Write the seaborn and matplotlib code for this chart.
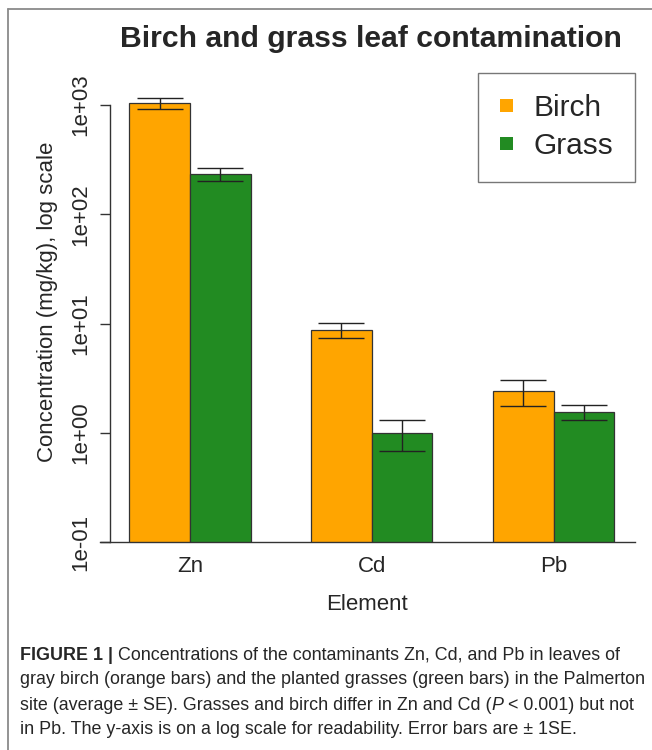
import matplotlib
matplotlib.use("Agg")
import matplotlib.pyplot as plt
import seaborn as sns
import pandas as pd
import numpy as np
from matplotlib.lines import Line2D

# ---- data ----
elements = ["Zn", "Cd", "Pb"]
plants = ["Birch", "Grass"]
birch_mean = [1036, 8.7, 2.39]
grass_mean = [233, 0.99, 1.55]
birch_se = [116, 1.35, 0.65]
grass_se = [30, 0.31, 0.245]
ytick_vals = [0.1, 1, 10, 100, 1000]
ytick_labels = ["1e-01", "1e+00", "1e+01", "1e+02", "1e+03"]

df = pd.DataFrame({
    "Element": elements * 2,
    "Plant": ["Birch"] * 3 + ["Grass"] * 3,
    "Concentration": birch_mean + grass_mean,
})
se_map = {"Birch": birch_se, "Grass": grass_se}
mean_map = {"Birch": birch_mean, "Grass": grass_mean}

sns.set_style("white")
plt.rcParams["font.family"] = ["Liberation Sans", "DejaVu Sans"]

W, H = 652, 750
fig = plt.figure(figsize=(W / 100, H / 100), dpi=100)

ax_left, ax_right = 100, 635
ax_bottom_px, ax_top_px = 542, 61.4
ax = fig.add_axes([ax_left / W, 1 - ax_bottom_px / H,
                   (ax_right - ax_left) / W, (ax_bottom_px - ax_top_px) / H])

orange = "#FFA500"
green = "#228B22"
sns.barplot(data=df, x="Element", y="Concentration", hue="Plant",
            order=elements, hue_order=plants, palette=[orange, green],
            saturation=1, width=2 / 3, edgecolor="#333333", linewidth=0.9,
            ax=ax, errorbar=None, legend=True)
ax.set_yscale("log")
ax.set_ylim(0.1, 10 ** 3.4)
ax.set_xlim(-0.495, 2.448)

# error bars
for plant, cont in zip(plants, ax.containers):
    xs = [b.get_x() + b.get_width() / 2 for b in cont]
    ax.errorbar(xs, mean_map[plant], yerr=se_map[plant], fmt="none",
                ecolor="#222222", elinewidth=1.0, capsize=16.5, capthick=1.0,
                zorder=5)

# axes styling (R-like)
for s in ["top", "right"]:
    ax.spines[s].set_visible(False)
ax.spines["left"].set_position(("data", -0.44))
ax.spines["left"].set_bounds(0.1, 1000)
ax.spines["left"].set_color("#333333")
ax.spines["bottom"].set_color("#333333")
ax.spines["left"].set_linewidth(1.0)
ax.spines["bottom"].set_linewidth(1.0)

ax.set_yticks(ytick_vals)
ax.set_yticklabels(ytick_labels)
ax.yaxis.set_minor_locator(matplotlib.ticker.NullLocator())
ax.tick_params(axis="y", which="major", direction="out", length=7.2,
               width=1.0, color="#333333", pad=6, labelsize=16,
               left=True)
for lab in ax.get_yticklabels():
    lab.set_rotation(90)
    lab.set_va("center")
    lab.set_ha("right")
ax.tick_params(axis="x", length=0, pad=10, labelsize=16)

ax.set_xlabel("Element", fontsize=16, labelpad=12)
ax.set_ylabel("Concentration (mg/kg), log scale", fontsize=16, labelpad=9)

# legend
leg = ax.legend(loc="upper right", bbox_to_anchor=(635 / W, 1 - 73 / H),
                bbox_transform=fig.transFigure, fontsize=21.5, frameon=True,
                fancybox=False, borderpad=0.72, handlelength=0.44,
                handleheight=0.29, handletextpad=0.7, labelspacing=0.32,
                borderaxespad=0, title=None)
leg.get_frame().set_edgecolor("#555555")
leg.get_frame().set_linewidth(1.0)
for h in leg.legend_handles:
    h.set_edgecolor("none")

# title
fig.text(371 / W, 1 - 39 / H, "Birch and grass leaf contamination",
         ha="center", va="center", fontsize=21.7, fontweight="bold")

# panel border
fig.add_artist(Line2D([8 / W, 8 / W], [0, 1 - 9 / H], transform=fig.transFigure,
                      color="#8a8a8a", lw=1.3))
fig.add_artist(Line2D([8 / W, 1], [1 - 9 / H, 1 - 9 / H], transform=fig.transFigure,
                      color="#8a8a8a", lw=1.3))

# caption
cap_family = ["Liberation Sans", "DejaVu Sans"]
cap_size = 12.9
cap_color = "#262626"
fig.canvas.draw()
renderer = fig.canvas.get_renderer()


def text_w(s, **kw):
    t = fig.text(0, 0, s, fontsize=cap_size, family=cap_family, **kw)
    w = t.get_window_extent(renderer).width
    t.remove()
    return w


space_w = text_w("a a") - text_w("aa")


def draw_line(y_px, runs, x_px=20):
    x = x_px
    for s, kw in runs:
        if s == " ":
            x += space_w
            continue
        t = fig.text(x / W, 1 - y_px / H, s, fontsize=cap_size, family=cap_family,
                     color=cap_color, va="center", ha="left", **kw)
        x += t.get_window_extent(renderer).width


N = {}
B = {"fontweight": "bold"}
I = {"style": "italic"}
draw_line(655, [("FIGURE 1 |", B), (" ", N),
                ("Concentrations of the contaminants Zn, Cd, and Pb in leaves of", N)])
draw_line(680, [("gray birch (orange bars) and the planted grasses (green bars) in the Palmerton", N)])
draw_line(705, [("site (average \u00b1 SE). Grasses and birch differ in Zn and Cd (", N),
                ("P", I), (" ", N), ("< 0.001) but not", N)])
draw_line(730, [("in Pb. The y-axis is on a log scale for readability. Error bars are \u00b1 1SE.", N)])

fig.savefig("out.png", dpi=100)
